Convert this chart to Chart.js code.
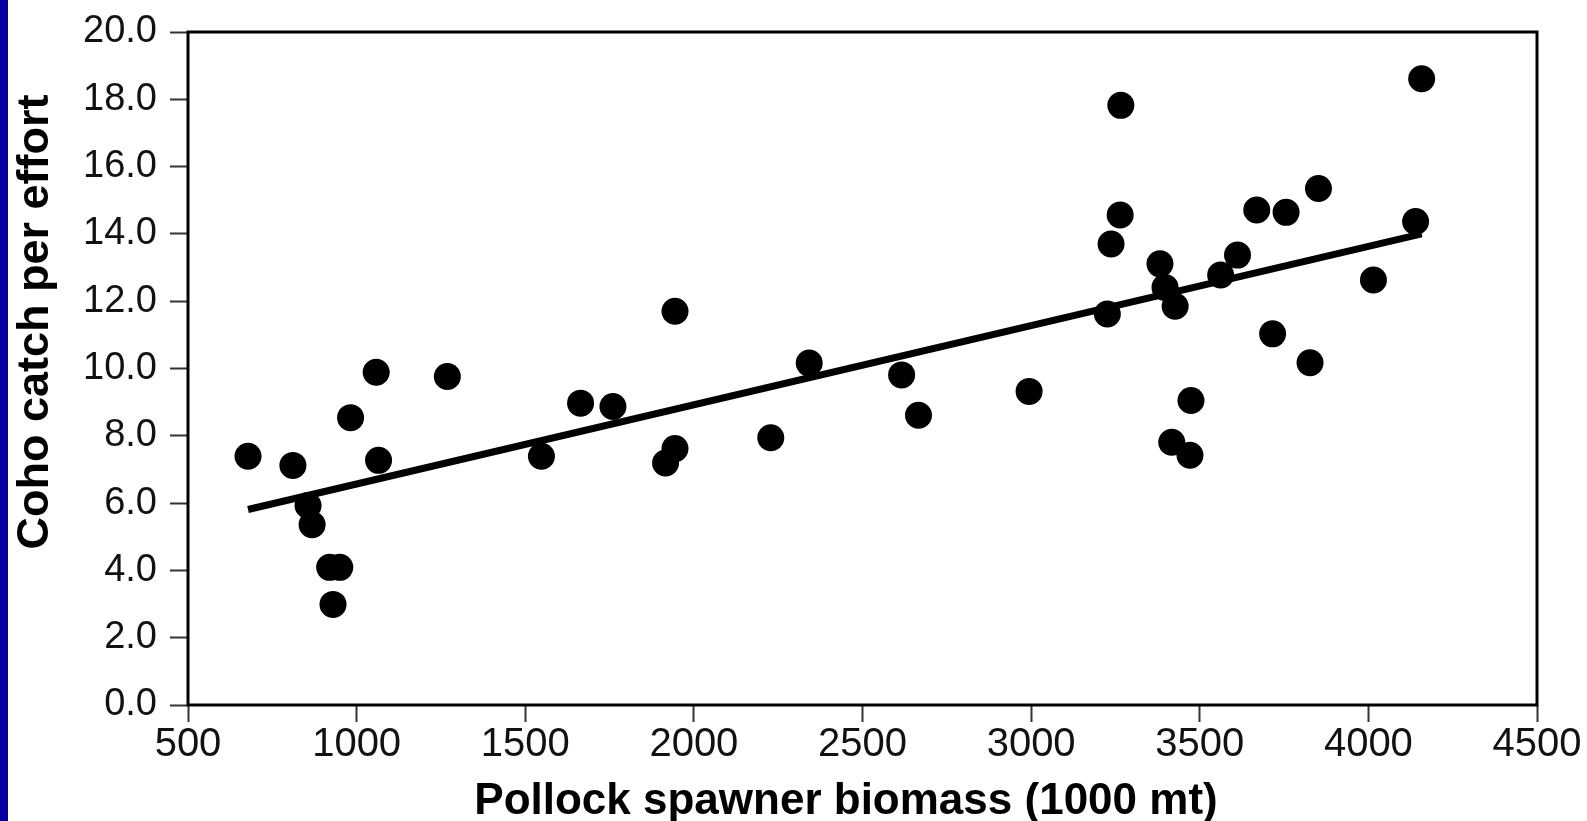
<!DOCTYPE html>
<html>
<head>
<meta charset="utf-8">
<script src="https://cdn.jsdelivr.net/npm/chart.js@4"></script>
<style>
  html, body { margin: 0; padding: 0; background: #fff; }
  #wrap { width: 1587px; height: 821px; position: relative; }
</style>
</head>
<body>
<div id="wrap"><canvas id="chart"></canvas></div>
<script>
// Pollock spawner biomass (1000 mt) vs coho catch per effort
const biomass = [678, 811, 856, 868, 920, 950, 930, 982, 1058, 1065, 1269, 1548, 1664, 1760,
  1916, 1944, 1944, 2228, 2342, 2616, 2666, 2994, 3226, 3237, 3264, 3266, 3382, 3397, 3427,
  3417, 3471, 3474, 3562, 3612, 3669, 3716, 3756, 3827, 3852, 4015, 4140, 4158];
const cpue = [7.39, 7.12, 5.93, 5.36, 4.09, 4.09, 2.99, 8.54, 9.89, 7.27, 9.76, 7.39, 8.97, 8.87,
  7.19, 7.62, 11.70, 7.94, 10.16, 9.81, 8.61, 9.32, 11.62, 13.70, 14.56, 17.82, 13.11, 12.41, 11.85,
  7.81, 7.42, 9.05, 12.78, 13.37, 14.71, 11.03, 14.64, 10.17, 15.35, 12.63, 14.37, 18.61];

// fitted line end points
const fitX = [678, 4158];
const fitY = [5.81, 14.0];

const xTicks = [500, 1000, 1500, 2000, 2500, 3000, 3500, 4000, 4500];
const yTicks = [0, 2, 4, 6, 8, 10, 12, 14, 16, 18, 20];

const xTitle = "Pollock spawner biomass (1000 mt)";
const yTitle = "Coho catch per effort";

const FONT = "'Liberation Sans', Arial, sans-serif";

const frame = {
  id: "frame",
  beforeDraw(chart) {
    const c = chart.ctx;
    c.save();
    c.fillStyle = "#ffffff";
    c.fillRect(0, 0, chart.width, chart.height);
    c.fillStyle = "#0600a0";
    c.fillRect(0, 0, 8, chart.height);
    c.restore();
  },
  afterDraw(chart) {
    const c = chart.ctx;
    const a = chart.chartArea;
    c.save();
    c.strokeStyle = "#000";
    c.lineWidth = 3;
    c.strokeRect(a.left, a.top, a.right - a.left, a.bottom - a.top);

    c.fillStyle = "#000";
    c.textAlign = "center";
    c.textBaseline = "alphabetic";
    c.font = "bold 44px " + FONT;
    c.fillText(xTitle, 846, 814);

    c.font = "bold 45px " + FONT;
    c.translate(48, 322);
    c.rotate(-Math.PI / 2);
    c.fillText(yTitle, 0, 0);
    c.restore();
  }
};

new Chart(document.getElementById("chart"), {
  type: "scatter",
  data: {
    datasets: [
      {
        type: "line",
        data: fitX.map((x, i) => ({ x: x, y: fitY[i] })),
        borderColor: "#000",
        borderWidth: 7,
        pointRadius: 0,
        fill: false,
        order: 0
      },
      {
        data: biomass.map((x, i) => ({ x: x, y: cpue[i] })),
        backgroundColor: "#000",
        borderWidth: 0,
        pointRadius: 13.5,
        order: 1
      }
    ]
  },
  options: {
    responsive: true,
    maintainAspectRatio: false,
    animation: false,
    layout: { padding: { left: 0, top: 31, right: 50, bottom: 0 } },
    plugins: {
      legend: { display: false },
      tooltip: { enabled: false }
    },
    scales: {
      x: {
        type: "linear",
        min: 500,
        max: 4500,
        afterFit: (s) => { s.height = 116; },
        afterBuildTicks: (s) => { s.ticks = xTicks.map(v => ({ value: v })); },
        grid: { drawOnChartArea: false, tickLength: 17, tickColor: "#333", tickWidth: 2 },
        border: { display: false },
        ticks: {
          color: "#111",
          padding: 3,
          maxRotation: 0,
          font: { family: FONT, size: 40, lineHeight: 1 },
          callback: (v) => String(v)
        }
      },
      y: {
        min: 0,
        max: 20,
        afterFit: (s) => { s.width = 188; },
        afterBuildTicks: (s) => { s.ticks = yTicks.map(v => ({ value: v })); },
        grid: { drawOnChartArea: false, tickLength: 18, tickColor: "#333", tickWidth: 2 },
        border: { display: false },
        ticks: {
          color: "#111",
          padding: 13,
          font: { family: FONT, size: 38, lineHeight: 1 },
          callback: (v) => Number(v).toFixed(1)
        }
      }
    }
  },
  plugins: [frame]
});
</script>
</body>
</html>
